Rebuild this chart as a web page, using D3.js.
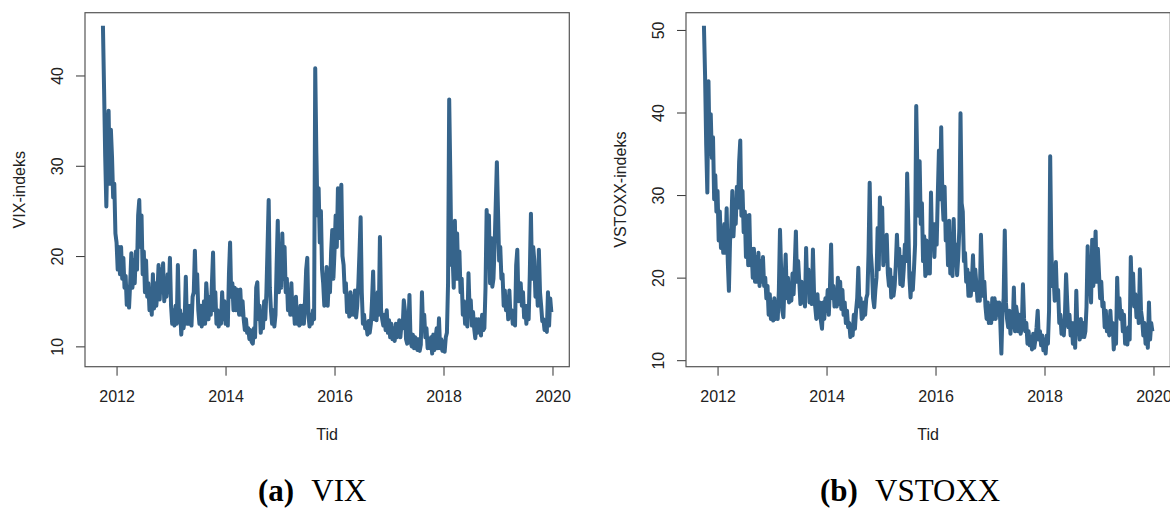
<!DOCTYPE html>
<html>
<head>
<meta charset="utf-8">
<script src="https://cdn.jsdelivr.net/npm/d3@7"></script>
<style>
  body { margin: 0; background: #fff; }
  svg { display: block; }
</style>
</head>
<body>
<svg id="fig"></svg>
<script>
// Series start (Oct 2011) and number of readings per year (about weekly)
const startYear = 2011.75;
const perYear = 48;

// Tick labels
const xTicks = [2012, 2014, 2016, 2018, 2020];
const vixTicks = [10, 20, 30, 40];
const vstoxxTicks = [10, 20, 30, 40, 50];

// VIX (4 readings per month, Oct 2011 - Dec 2019)
const vixValues = [
  // 2011
  45.5, 38.5, 31.0, 25.5,  33.0, 36.1, 28.0, 34.0,  31.0, 26.5, 28.0, 22.5,
  // 2012
  21.5, 18.5, 21.0, 18.0,  21.0, 17.5, 19.8, 16.5,  17.8, 14.6, 16.5, 14.3,
  17.0, 20.3, 16.5, 19.5,  17.0, 20.5, 18.5, 24.5,  26.2, 21.0, 24.5, 18.0,
  20.5, 16.0, 19.5, 15.5,  17.0, 14.0, 15.8, 13.5,  18.0, 14.2, 17.0, 14.5,
  16.0, 19.0, 15.2, 18.5,  16.0, 19.2, 15.0, 17.5,  15.5, 18.0, 16.0, 19.8,
  // 2013
  14.5, 12.5, 14.0, 12.3,  14.5, 12.5, 19.0, 13.5,  14.0, 11.3, 13.5, 12.0,
  13.0, 17.7, 12.5, 14.5,  12.5, 14.5, 12.3, 15.5,  16.0, 20.6, 16.0, 18.0,
  14.0, 12.5, 14.5, 12.2,  13.0, 15.0, 12.5, 17.0,  15.0, 13.0, 15.5, 13.5,
  17.0, 20.4, 14.0, 16.0,  12.5, 14.0, 12.2, 13.5,  12.5, 16.0, 13.0, 15.0,
  // 2014
  12.5, 14.5, 12.3, 18.0,  21.5, 15.5, 17.0, 14.0,  16.5, 14.0, 16.3, 14.5,
  13.5, 16.3, 13.5, 15.0,  13.0, 11.8, 13.0, 11.5,  12.0, 10.8, 11.8, 10.5,
  10.3, 12.0, 11.0, 16.5,  17.1, 13.0, 14.5, 11.5,  13.5, 12.0, 15.0, 13.0,
  16.0, 21.0, 26.2, 16.5,  14.0, 12.5, 14.0, 12.2,  13.5, 19.0, 23.9, 16.0,
  // 2015
  20.0, 16.5, 22.5, 17.5,  21.0, 16.0, 17.5, 14.0,  16.0, 13.5, 17.0, 13.5,
  14.5, 12.5, 15.5, 12.5,  14.0, 12.3, 14.5, 12.5,  14.5, 12.5, 15.0, 18.5,
  19.8, 13.5, 12.2, 13.5,  12.5, 14.0, 13.0, 40.8,  31.4, 24.5, 27.5, 21.5,
  25.0, 18.5, 17.0, 14.5,  15.0, 18.8, 14.5, 17.5,  16.0, 20.5, 22.9, 17.5,
  // 2016
  20.5, 24.5, 21.0, 27.5,  22.0, 26.0, 27.9, 20.0,  19.0, 16.0, 17.0, 13.8,
  15.0, 13.3, 16.0, 13.5,  15.5, 13.5, 16.2, 13.2,  14.5, 17.0, 20.5, 24.3,
  16.0, 12.5, 13.5, 12.0,  12.5, 11.3, 12.8, 11.5,  12.5, 15.0, 18.3, 13.0,
  15.0, 12.9, 16.0, 13.5,  22.1, 14.0, 13.0, 12.3,  13.5, 11.8, 14.0, 11.5,
  // 2017
  12.9, 11.0, 12.5, 10.8,  12.0, 10.6, 12.5, 11.0,  11.5, 12.9, 11.0, 12.5,
  12.0, 15.1, 14.0, 10.8,  10.3, 11.5, 15.7, 10.5,  10.0, 11.3, 9.8, 11.0,
  10.8, 9.6, 10.8, 9.5,    10.2, 16.0, 12.0, 13.5,  11.0, 12.0, 9.8, 10.8,
  9.8, 11.0, 9.2, 11.3,    9.6, 11.0, 12.0, 9.8,    13.1, 9.8, 10.8, 9.5,
  // 2018
  10.5, 9.4, 11.0, 11.5,   17.0, 37.35, 29.0, 19.0, 20.0, 16.5, 23.9, 17.5,
  22.5, 17.5, 20.5, 16.0,  17.5, 13.5, 15.0, 12.5,  13.5, 12.2, 18.1, 14.0,
  15.1, 12.3, 13.8, 12.0,  10.9, 13.0, 11.5, 13.0,  12.5, 11.2, 13.5, 11.8,
  12.0, 16.5, 25.1, 19.5,  24.5, 17.0, 22.0, 16.6,  17.5, 21.0, 25.7, 30.4,
  // 2019
  25.0, 19.5, 21.0, 17.5,  18.0, 14.5, 16.2, 14.0,  15.5, 13.0, 16.2, 13.2,
  14.0, 12.5, 13.5, 12.3,  19.0, 20.7, 15.0, 17.0,  17.0, 14.5, 16.0, 13.2,
  14.5, 12.5, 14.5, 13.0,  18.0, 24.7, 17.5, 21.0,  19.5, 15.5, 17.5, 14.5,
  20.7, 16.0, 14.5, 12.8,  13.0, 11.8, 12.9, 11.6,  16.0, 12.3, 15.3, 13.8
];

// VSTOXX (same dates)
const vstoxxValues = [
  // 2011
  50.5, 44.5, 36.0, 30.3,  43.8, 35.0, 39.8, 34.5,  37.0, 29.5, 32.4, 28.0,
  // 2012
  30.5, 24.5, 28.0, 23.6,  26.0, 23.0, 26.5, 23.0,  28.4, 22.0, 18.4, 24.5,
  26.0, 30.5, 25.0, 28.0,  26.5, 31.0, 28.5, 34.0,  36.6, 27.5, 30.5, 25.5,
  28.0, 22.5, 27.5, 21.5,  27.6, 21.5, 23.5, 20.0,  23.5, 19.5, 22.5, 19.5,
  23.0, 19.0, 22.0, 19.5,  22.5, 19.0, 20.0, 17.5,  19.0, 15.5, 18.0, 15.0,
  // 2013
  17.0, 14.8, 17.5, 15.0,  17.0, 15.0, 18.5, 25.8,  21.0, 16.0, 15.2, 19.5,
  22.8, 17.5, 20.0, 17.0,  19.0, 17.2, 20.5, 18.0,  21.5, 25.6, 19.5, 22.0,
  19.5, 16.8, 19.5, 17.0,  18.0, 16.5, 23.6, 18.5,  21.0, 17.0, 19.0, 16.8,
  23.4, 18.0, 16.5, 15.0,  18.0, 15.2, 17.0, 14.8,  13.8, 17.0, 15.0, 17.5,
  // 2014
  16.0, 18.5, 15.5, 18.8,  24.0, 17.5, 19.0, 16.5,  18.5, 16.5, 20.0, 16.8,
  19.5, 16.2, 18.5, 15.5,  17.0, 14.5, 16.0, 14.0,  14.5, 12.8, 14.0, 13.0,
  15.5, 13.8, 16.0, 17.5,  21.2, 16.5, 17.5, 15.0,  15.2, 17.0, 15.5, 17.5,
  18.0, 23.0, 31.5, 23.0,  21.0, 17.5, 16.4, 18.5,  20.0, 26.0, 21.0, 29.7,
  // 2015
  24.0, 28.5, 21.5, 25.0,  22.0, 25.2, 20.5, 19.0,  21.0, 17.6, 20.0, 17.8,
  19.0, 21.5, 25.2, 21.5,  23.5, 19.2, 22.5, 19.0,  21.0, 24.0, 22.0, 32.6,
  26.5, 20.0, 17.6, 20.5,  18.5, 21.0, 24.0, 40.8,  33.0, 27.5, 34.1, 26.5,
  29.0, 22.0, 25.0, 20.2,  24.5, 20.5, 24.0, 20.5,  30.3, 23.5, 26.5, 22.5,
  // 2016
  26.5, 24.0, 30.0, 35.4,  29.5, 38.2, 30.0, 27.0,  31.0, 24.5, 26.5, 21.5,
  26.9, 20.5, 24.0, 20.2,  27.1, 21.5, 24.0, 20.3,  22.5, 26.0, 39.9, 29.0,
  28.0, 22.0, 23.0, 19.5,  21.0, 17.8, 20.5, 17.8,  19.5, 22.7, 18.5, 21.0,
  19.2, 17.2, 19.0, 17.2,  25.2, 21.0, 17.8, 19.5,  16.5, 15.0, 17.0, 14.5,
  // 2017
  16.5, 14.5, 17.5, 15.0,  17.5, 15.0, 17.0, 15.5,  17.0, 14.8, 10.8, 16.0,
  17.5, 25.7, 17.0, 15.0,  14.0, 16.0, 13.2, 15.5,  14.0, 18.8, 13.5, 16.5,
  15.5, 13.5, 15.5, 13.2,  14.0, 19.2, 15.0, 13.5,  14.5, 12.0, 13.5, 11.8,
  12.8, 11.3, 13.2, 11.5,  12.5, 14.0, 16.0, 12.5,  13.5, 11.8, 13.0, 11.2,
  // 2018
  12.5, 10.8, 13.0, 12.0,  16.0, 34.7, 23.5, 19.0,  20.0, 17.2, 21.9, 17.5,
  18.5, 14.5, 15.5, 13.2,  14.5, 13.0, 15.5, 20.4,  17.0, 14.0, 15.5, 13.0,
  14.5, 12.0, 14.5, 11.5,  18.4, 13.5, 14.5, 12.5,  15.0, 12.8, 14.5, 12.8,
  13.5, 16.5, 23.8, 18.5,  20.0, 17.0, 24.6, 19.0,  21.5, 25.6, 19.5, 23.5,
  // 2019
  20.5, 17.5, 19.5, 16.5,  17.0, 14.0, 16.0, 13.5,  14.5, 13.0, 16.0, 13.5,
  14.5, 11.3, 13.5, 12.0,  20.0, 15.5, 17.5, 15.0,  16.0, 13.5, 15.5, 12.0,
  13.5, 11.9, 14.0, 12.5,  22.5, 17.5, 20.5, 16.5,  18.0, 15.2, 17.5, 14.5,
  21.0, 16.0, 15.0, 13.0,  14.5, 12.0, 14.0, 11.5,  17.0, 12.5, 14.5, 13.5
];

// Set up dimensions
const width = 1170;
const height = 509;
const plotTop = 12.7;
const plotBottom = 366.7;
const plotWidth = 484.3;
const lineColor = "#36648B";
const font = "'Liberation Sans', Arial, sans-serif";

const svg = d3.select("#fig").attr("width", width).attr("height", height);

// R-style 4% padding around the data range
function padded(ext) {
  const d = (ext[1] - ext[0]) * 0.04;
  return [ext[0] - d, ext[1] + d];
}

const dates = vixValues.map((v, i) => startYear + i / perYear);

function drawPanel(values, yTicks, yTitle, left) {
  const right = left + plotWidth;
  const xScale = d3.scaleLinear().domain(padded(d3.extent(dates))).range([left, right]);
  const yScale = d3.scaleLinear().domain(padded(d3.extent(values))).range([plotBottom, plotTop]);

  const g = svg.append("g");

  // x axis
  const xAxis = d3.axisBottom(xScale).tickValues(xTicks).tickFormat(d3.format("d"))
    .tickSize(9);
  const xg = g.append("g").attr("transform", `translate(0, ${plotBottom})`).call(xAxis);
  xg.select(".domain").remove();
  xg.selectAll("line").attr("stroke", "#333");
  xg.selectAll("text").attr("font-family", font).attr("font-size", 16).attr("fill", "#222")
    .attr("dy", null).attr("y", 35);

  // y axis, labels parallel to the axis
  const yAxis = d3.axisLeft(yScale).tickValues(yTicks).tickSize(9);
  const yg = g.append("g").attr("transform", `translate(${left}, 0)`).call(yAxis);
  yg.select(".domain").remove();
  yg.selectAll("line").attr("stroke", "#333");
  yg.selectAll(".tick text")
    .attr("font-family", font).attr("font-size", 16).attr("fill", "#222")
    .attr("x", null).attr("dy", null)
    .attr("text-anchor", "middle")
    .attr("transform", "translate(-22, 0) rotate(-90)");

  // series
  const line = d3.line()
    .x((d, i) => xScale(dates[i]))
    .y((d) => yScale(d));
  g.append("path")
    .datum(values)
    .attr("fill", "none")
    .attr("stroke", lineColor)
    .attr("stroke-width", 4)
    .attr("stroke-linejoin", "round")
    .attr("d", line);

  // box
  g.append("rect")
    .attr("x", left).attr("y", plotTop)
    .attr("width", plotWidth).attr("height", plotBottom - plotTop)
    .attr("fill", "none").attr("stroke", "#555").attr("stroke-width", 1.2);

  // axis titles
  g.append("text")
    .attr("x", (left + right) / 2).attr("y", 440)
    .attr("text-anchor", "middle")
    .attr("font-family", font).attr("font-size", 16).attr("fill", "#222")
    .text("Tid");
  g.append("text")
    .attr("transform", `translate(${left - 60}, ${(plotTop + plotBottom) / 2}) rotate(-90)`)
    .attr("text-anchor", "middle")
    .attr("font-family", font).attr("font-size", 16).attr("fill", "#222")
    .text(yTitle);
}

drawPanel(vixValues, vixTicks, "VIX-indeks", 85);
drawPanel(vstoxxValues, vstoxxTicks, "VSTOXX-indeks", 686);

// captions
function caption(x, label, name) {
  const t = svg.append("text")
    .attr("x", x).attr("y", 501)
    .attr("font-family", "'Liberation Serif', 'Times New Roman', serif")
    .attr("font-size", 31).attr("fill", "#000");
  t.append("tspan").attr("font-weight", "bold").text(label);
  t.append("tspan").attr("dx", 10).text(name);
}
caption(258, "(a)", " VIX");
caption(820, "(b)", " VSTOXX");
</script>
</body>
</html>
